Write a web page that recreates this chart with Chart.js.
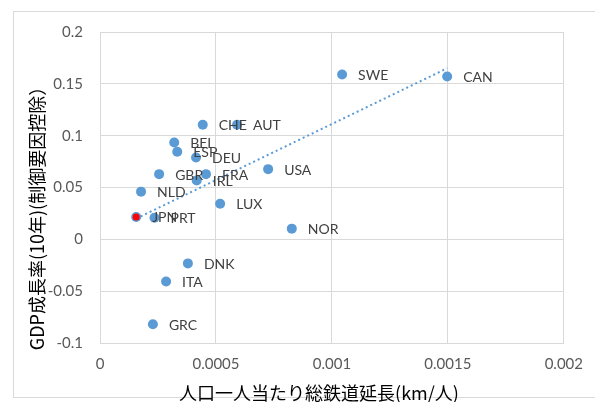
<!DOCTYPE html>
<html lang="ja">
<head>
  <meta charset="UTF-8">
  <title>鉄道延長とGDP成長率</title>
  <script src="https://cdn.jsdelivr.net/npm/chart.js"></script>
  <style>
    body { margin: 0; background: #fff; }
    #wrap { width: 595px; height: 402px; }
  </style>
</head>
<body>
<div id="wrap"><canvas id="chart" width="595" height="402"></canvas></div>
<script>
  // data
  const countries = ['SWE', 'CAN', 'CHE', 'AUT', 'BEL', 'ESP', 'DEU', 'USA', 'GBR', 'FRA',
                     'IRL', 'NLD', 'LUX', 'JPN', 'PRT', 'NOR', 'DNK', 'ITA', 'GRC'];
  const railPerCapita = [0.001044, 0.001497, 0.000443, 0.000591, 0.000320, 0.000333, 0.000414, 0.000725, 0.000255, 0.000457,
                         0.000417, 0.000177, 0.000518, 0.000156, 0.000235, 0.000827, 0.000379, 0.000285, 0.000228];
  const gdpGrowth = [0.159, 0.157, 0.1105, 0.1105, 0.0934, 0.0844, 0.0789, 0.0677, 0.0629, 0.0629,
                     0.0567, 0.046, 0.0344, 0.0216, 0.0209, 0.0103, -0.0232, -0.0406, -0.0819];
  // linear trendline end points
  const trendX = [0.000156, 0.001497];
  const trendY = [0.020, 0.165];

  const xTitle = '人口一人当たり総鉄道延長(km/人)';
  const yTitle = 'GDP成長率(10年)(制御要因控除）';

  const blue = '#5B9BD5';
  const gridColor = '#D9D9D9';

  const points = countries.map((c, i) => ({ x: railPerCapita[i], y: gdpGrowth[i] }));
  const jpn = countries.indexOf('JPN');
  const trend = trendX.map((x, i) => ({ x: x, y: trendY[i] }));

  // chart frame, axis titles and point labels
  const extras = {
    id: 'extras',
    beforeDraw(chart) {
      const ctx = chart.ctx;
      ctx.save();
      ctx.strokeStyle = gridColor;
      ctx.lineWidth = 1;
      ctx.strokeRect(13.5, 11.5, 600, 386);
      ctx.restore();
    },
    afterDraw(chart) {
      const ctx = chart.ctx;
      ctx.save();
      ctx.fillStyle = '#000';
      ctx.textAlign = 'center';
      ctx.textBaseline = 'middle';
      ctx.font = '18px "Noto Sans CJK JP"';
      ctx.fillText(xTitle, 319, 393);
      ctx.translate(37, 214);
      ctx.rotate(-Math.PI / 2);
      ctx.font = '18px "Noto Sans CJK JP"';
      ctx.fillText(yTitle, 0, 0);
      ctx.restore();
    },
    afterDatasetsDraw(chart) {
      const ctx = chart.ctx;
      const meta = chart.getDatasetMeta(2);
      ctx.save();
      ctx.fillStyle = '#404040';
      ctx.font = '14px Lato';
      ctx.textAlign = 'left';
      ctx.textBaseline = 'middle';
      meta.data.forEach((pt, i) => {
        ctx.fillText(countries[i], pt.x + 16, pt.y + 1);
      });
      ctx.restore();
    }
  };

  new Chart(document.getElementById('chart'), {
    type: 'scatter',
    data: {
      datasets: [
        {
          label: 'JPN',
          data: [points[jpn]],
          pointRadius: 3.5,
          pointBackgroundColor: '#FF0000',
          pointBorderWidth: 0
        },
        {
          label: 'trend',
          type: 'line',
          data: trend,
          borderColor: blue,
          borderWidth: 2,
          borderDash: [2, 3],
          pointRadius: 0,
          fill: false
        },
        {
          label: 'countries',
          data: points,
          pointRadius: 5,
          pointBackgroundColor: blue,
          pointBorderWidth: 0
        }
      ]
    },
    options: {
      responsive: false,
      animation: false,
      devicePixelRatio: 1,
      layout: { padding: { left: 0, top: 32, right: 25, bottom: 0 } },
      plugins: { legend: { display: false }, tooltip: { enabled: false } },
      scales: {
        x: {
          type: 'linear',
          min: 0,
          max: 0.002,
          afterFit(axis) { axis.height = 59; },
          grid: { color: gridColor, drawTicks: false },
          border: { color: gridColor },
          ticks: {
            stepSize: 0.0005,
            padding: 12,
            color: '#595959',
            font: { family: 'Lato', size: 15 },
            callback: v => String(Number(v.toFixed(4)))
          }
        },
        y: {
          min: -0.1,
          max: 0.2,
          afterFit(axis) { axis.width = 100; },
          grid: { color: gridColor, drawTicks: false },
          border: { color: gridColor },
          ticks: {
            stepSize: 0.05,
            padding: 17,
            color: '#595959',
            font: { family: 'Lato', size: 15 },
            callback: v => String(Number(v.toFixed(2)))
          }
        }
      }
    },
    plugins: [extras]
  });
</script>
</body>
</html>
